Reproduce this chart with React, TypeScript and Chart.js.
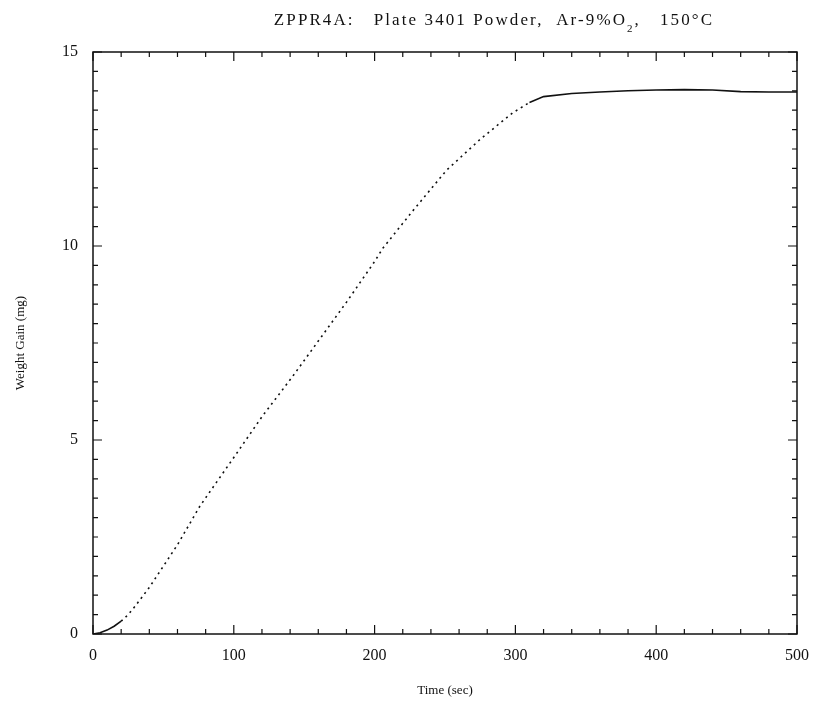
import React, { useEffect, useRef } from "react";
import { Chart, registerables } from "chart.js";

Chart.register(...registerables);

const timeSec = [0, 5, 10, 15, 20, 25, 30, 40, 50, 60, 76, 100, 120, 142, 160, 180, 200, 206, 227, 251, 275, 298, 310, 320, 340, 360, 380, 400, 420, 440, 460, 480, 500];
const weightGain = [0, 0.03, 0.1, 0.2, 0.33, 0.5, 0.72, 1.2, 1.75, 2.3, 3.3, 4.55, 5.6, 6.65, 7.55, 8.55, 9.6, 9.95, 10.9, 11.95, 12.75, 13.43, 13.7, 13.85, 13.93, 13.97, 14.0, 14.02, 14.03, 14.02, 13.98, 13.97, 13.97];
const xTickLabels = ["0", "100", "200", "300", "400", "500"];
const yTickLabels = ["0", "5", "10", "15"];

const SERIF = "'Liberation Serif', 'DejaVu Serif', serif";

const framePlugin = {
  id: "frame",
  afterDraw(chart: any) {
    const { ctx, chartArea } = chart;
    const { left, right, top, bottom } = chartArea;
    const xs = chart.scales.x;
    const ys = chart.scales.y;
    ctx.save();
    ctx.strokeStyle = "#111";
    ctx.lineWidth = 1.5;
    ctx.strokeRect(left, top, right - left, bottom - top);
    ctx.lineWidth = 1.2;
    ctx.beginPath();
    for (let v = 0; v <= 500; v += 20) {
      const px = xs.getPixelForValue(v);
      const len = v % 100 === 0 ? 9 : 5;
      ctx.moveTo(px, bottom);
      ctx.lineTo(px, bottom - len);
      ctx.moveTo(px, top);
      ctx.lineTo(px, top + len);
    }
    for (let i = 0; i <= 30; i++) {
      const v = i * 0.5;
      const py = ys.getPixelForValue(v);
      const len = i % 10 === 0 ? 9 : 5;
      ctx.moveTo(left, py);
      ctx.lineTo(left + len, py);
      ctx.moveTo(right, py);
      ctx.lineTo(right - len, py);
    }
    ctx.stroke();

    // Title
    ctx.fillStyle = "#111";
    ctx.textBaseline = "middle";
    ctx.textAlign = "left";
    try { (ctx as any).letterSpacing = "2.1px"; } catch (e) {}
    const big = `17px ${SERIF}`;
    const small = `11px ${SERIF}`;
    ctx.font = big;
    const part1 = "ZPPR4A:   Plate 3401 Powder,  Ar-9%O";
    const part2 = ",   150°C";
    const w1 = ctx.measureText(part1).width;
    const w2 = ctx.measureText(part2).width;
    ctx.font = small;
    const ws = ctx.measureText("2").width;
    const total = w1 + ws + w2;
    const cx = 494;
    const x0 = cx - total / 2;
    const ty = 21;
    ctx.font = big;
    ctx.fillText(part1, x0, ty);
    ctx.font = small;
    ctx.fillText("2", x0 + w1, ty + 8);
    ctx.font = big;
    ctx.fillText(part2, x0 + w1 + ws, ty);
    ctx.restore();
  },
};

export default function App() {
  const canvasRef = useRef<HTMLCanvasElement | null>(null);

  useEffect(() => {
    const canvas = canvasRef.current;
    if (!canvas) return;
    const data = timeSec.map((t, i) => ({ x: t, y: weightGain[i] }));
    const chart = new Chart(canvas, {
      type: "line",
      data: {
        datasets: [
          {
            data,
            borderColor: "#111",
            borderWidth: 1.6,
            pointRadius: 0,
            fill: false,
            tension: 0,
            segment: {
              borderDash: (c: any) =>
                c.p0.parsed.x >= 20 && c.p1.parsed.x <= 310 ? [2, 4] : undefined,
            },
          },
        ],
      },
      options: {
        responsive: false,
        animation: false,
        devicePixelRatio: 1,
        layout: { padding: { left: 0, right: 20, top: 52, bottom: 0 } },
        plugins: {
          legend: { display: false },
          title: { display: false },
          tooltip: { enabled: false },
        },
        scales: {
          x: {
            type: "linear",
            min: 0,
            max: 500,
            grid: { display: false, drawTicks: false },
            border: { display: false },
            afterFit: (s: any) => {
              s.height = 67;
              s.paddingLeft = 0;
              s.paddingRight = 0;
            },
            afterBuildTicks: (s: any) => {
              s.ticks = xTickLabels.map((l) => ({ value: Number(l) }));
            },
            ticks: {
              padding: 12,
              color: "#111",
              font: { family: SERIF, size: 16 },
              maxRotation: 0,
            },
            title: {
              display: true,
              text: "Time (sec)",
              color: "#111",
              font: { family: SERIF, size: 13 },
              padding: { top: 0, bottom: 3 },
            },
          },
          y: {
            type: "linear",
            min: 0,
            max: 15,
            grid: { display: false, drawTicks: false },
            border: { display: false },
            afterFit: (s: any) => {
              s.width = 93;
              s.paddingTop = 0;
              s.paddingBottom = 0;
            },
            afterBuildTicks: (s: any) => {
              s.ticks = yTickLabels.map((l) => ({ value: Number(l) }));
            },
            ticks: {
              padding: 15,
              color: "#111",
              font: { family: SERIF, size: 16 },
            },
            title: {
              display: true,
              text: "Weight Gain (mg)",
              color: "#111",
              font: { family: SERIF, size: 13 },
              padding: { top: 13, bottom: 0 },
            },
          },
        },
      },
      plugins: [framePlugin],
    });
    return () => chart.destroy();
  }, []);

  return (
    <div style={{ position: "absolute", left: 0, top: 0, width: 817, height: 701, background: "#fff" }}>
      <canvas ref={canvasRef} width={817} height={701} style={{ display: "block" }} />
    </div>
  );
}
